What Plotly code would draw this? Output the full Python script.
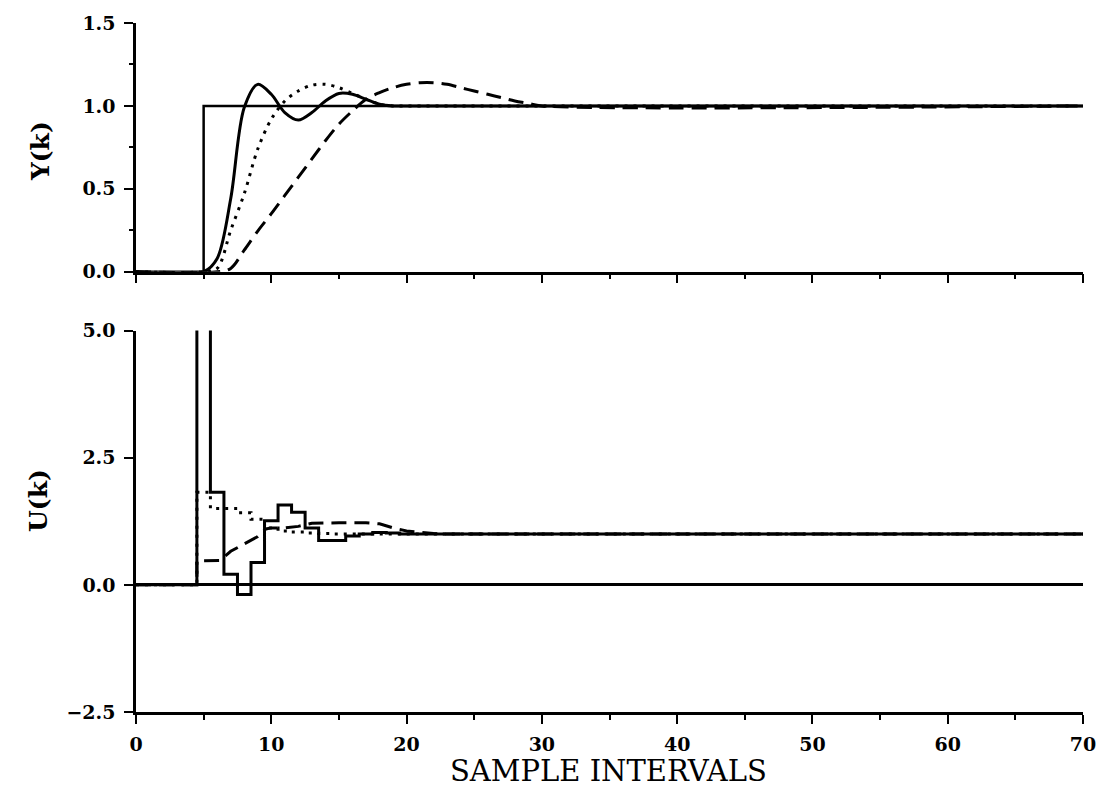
import plotly.graph_objects as go

# ---------------- data ----------------
# Top panel: output Y(k)
k_setpoint = [0, 5, 5, 70]
y_setpoint = [0, 0, 1, 1]

k_y_solid = [0, 5, 6, 7, 8, 9, 10, 11, 12, 13, 14, 15, 16, 17, 18, 19, 20, 70]
y_solid = [0, 0, 0.08, 0.44, 0.99, 1.13, 1.07, 0.96, 0.915, 0.96, 1.03, 1.075, 1.07, 1.04, 1.01, 1.0, 1.0, 1.0]

k_y_dotted = [0, 5, 6, 7, 8, 9, 10, 11, 12, 13, 14, 15, 16, 17, 18, 19, 20, 70]
y_dotted = [0, 0, 0.02, 0.25, 0.47, 0.74, 0.92, 1.03, 1.09, 1.125, 1.13, 1.11, 1.075, 1.04, 1.01, 1.0, 1.0, 1.0]

k_y_dashed = [0, 6, 7, 8, 9, 10, 11, 12, 13, 14, 15, 16, 17, 18, 19, 20, 21, 22, 23, 24, 25, 26, 27, 28, 29, 30, 70]
y_dashed = [0, 0, 0.02, 0.13, 0.245, 0.35, 0.46, 0.57, 0.68, 0.79, 0.89, 0.97, 1.04, 1.08, 1.11, 1.13, 1.14, 1.14,
            1.13, 1.11, 1.09, 1.07, 1.05, 1.03, 1.015, 1.0, 1.0]

# Bottom panel: control U(k)
k_u_solid = [0, 4, 5, 6, 7, 8, 9, 10, 11, 12, 13, 14, 15, 16, 17, 18, 19, 20, 70]
u_solid = [0, 0, 8.0, 1.82, 0.21, -0.19, 0.44, 1.26, 1.57, 1.43, 1.12, 0.87, 0.87, 0.96, 1.0, 1.03, 1.02, 1.0, 1.0]

k_u_dotted = [0, 4, 5, 6, 7, 8, 9, 10, 11, 12, 13, 14, 15, 70]
u_dotted = [0, 0, 1.82, 1.5, 1.5, 1.42, 1.29, 1.12, 1.06, 1.04, 1.02, 1.01, 1.0, 1.0]

k_u_dashed = [0, 4.5, 4.5, 6.2, 7, 8, 9, 9.6, 10, 11, 12, 13, 14, 15, 16, 17, 18, 19, 20, 21, 22, 23, 70]
u_dashed = [0, 0, 0.47, 0.48, 0.66, 0.8, 0.95, 1.1, 1.12, 1.12, 1.15, 1.21, 1.22, 1.22, 1.22, 1.22, 1.2, 1.12,
            1.06, 1.03, 1.01, 1.0, 1.0]

x_ticks = [0, 10, 20, 30, 40, 50, 60, 70]
y_ticks_top = [0.0, 0.5, 1.0, 1.5]
y_ticks_bottom = [-2.5, 0.0, 2.5, 5.0]

# ---------------- figure ----------------
BLACK = "#000000"
LW = 3
AXW = 2.5
DASH = "15px,8px"
DOT = "3px,6px"

fig = go.Figure()

fig.add_trace(go.Scatter(x=k_setpoint, y=y_setpoint, mode="lines",
                         line=dict(color=BLACK, width=2.5), xaxis="x", yaxis="y"))
fig.add_trace(go.Scatter(x=k_y_solid, y=y_solid, mode="lines",
                         line=dict(color=BLACK, width=LW, shape="spline", smoothing=0.9), xaxis="x", yaxis="y"))
fig.add_trace(go.Scatter(x=k_y_dotted, y=y_dotted, mode="lines",
                         line=dict(color=BLACK, width=LW, shape="spline", smoothing=0.9, dash=DOT), xaxis="x", yaxis="y"))
fig.add_trace(go.Scatter(x=k_y_dashed, y=y_dashed, mode="lines",
                         line=dict(color=BLACK, width=LW, shape="spline", smoothing=0.9, dash=DASH), xaxis="x", yaxis="y"))

fig.add_trace(go.Scatter(x=k_u_solid, y=u_solid, mode="lines",
                         line=dict(color=BLACK, width=LW, shape="hvh"), xaxis="x2", yaxis="y2"))
fig.add_trace(go.Scatter(x=k_u_dotted, y=u_dotted, mode="lines",
                         line=dict(color=BLACK, width=LW, shape="hvh", dash=DOT), xaxis="x2", yaxis="y2"))
fig.add_trace(go.Scatter(x=k_u_dashed, y=u_dashed, mode="lines",
                         line=dict(color=BLACK, width=LW, dash=DASH), xaxis="x2", yaxis="y2"))

tickfont = dict(family="DejaVu Serif", size=19, color=BLACK, weight="bold")

common_x = dict(range=[0, 70], showline=True, linewidth=AXW, linecolor=BLACK, mirror=False,
                ticks="outside", tickvals=x_ticks, ticklen=9, tickwidth=2, tickcolor=BLACK,
                showgrid=False, zeroline=False, tickfont=tickfont,
                minor=dict(dtick=5, tick0=0, ticks="outside", ticklen=5, tickwidth=2, tickcolor=BLACK, showgrid=False))

fig.update_layout(
    width=1108, height=791,
    margin=dict(l=136, r=18, t=22, b=79),
    paper_bgcolor="white", plot_bgcolor="white",
    showlegend=False,
    xaxis=dict(domain=[0, 1], anchor="y", showticklabels=False, **common_x),
    yaxis=dict(domain=[0.639, 1], anchor="x", range=[0, 1.5], showline=True, linewidth=AXW, linecolor=BLACK,
               ticks="outside", tickvals=y_ticks_top, tickformat=".1f", ticklen=9, tickwidth=2, tickcolor=BLACK,
               showgrid=False, zeroline=False, tickfont=tickfont, ticklabelstandoff=5,
               minor=dict(dtick=0.25, tick0=0, ticks="outside", ticklen=4, tickwidth=2, tickcolor=BLACK,
                          showgrid=False)),
    xaxis2=dict(domain=[0, 1], anchor="y2", showticklabels=True, ticklabelstandoff=4, **common_x),
    yaxis2=dict(domain=[0, 0.5536], anchor="x2", range=[-2.5, 5], showline=True, linewidth=AXW, linecolor=BLACK,
                ticks="outside", tickvals=y_ticks_bottom, tickformat=".1f", ticklen=9, tickwidth=2,
                tickcolor=BLACK, showgrid=False, zeroline=True, zerolinewidth=2.5, zerolinecolor=BLACK,
                tickfont=tickfont, ticklabelstandoff=5),
    annotations=[
        dict(text="<b>Y(k)</b>", x=-0.1, y=0.8145, xref="paper", yref="paper", showarrow=False,
             textangle=-90, xanchor="center", yanchor="middle",
             font=dict(family="DejaVu Serif", size=25, color=BLACK)),
        dict(text="<b>U(k)</b>", x=-0.103, y=0.307, xref="paper", yref="paper", showarrow=False,
             textangle=-90, xanchor="center", yanchor="middle",
             font=dict(family="DejaVu Serif", size=25, color=BLACK)),
        dict(text="SAMPLE INTERVALS", x=0.499, y=-0.0855, xref="paper", yref="paper", showarrow=False,
             xanchor="center", yanchor="middle",
             font=dict(family="DejaVu Serif", size=29, color=BLACK)),
    ],
)

fig.write_html("out.html")
